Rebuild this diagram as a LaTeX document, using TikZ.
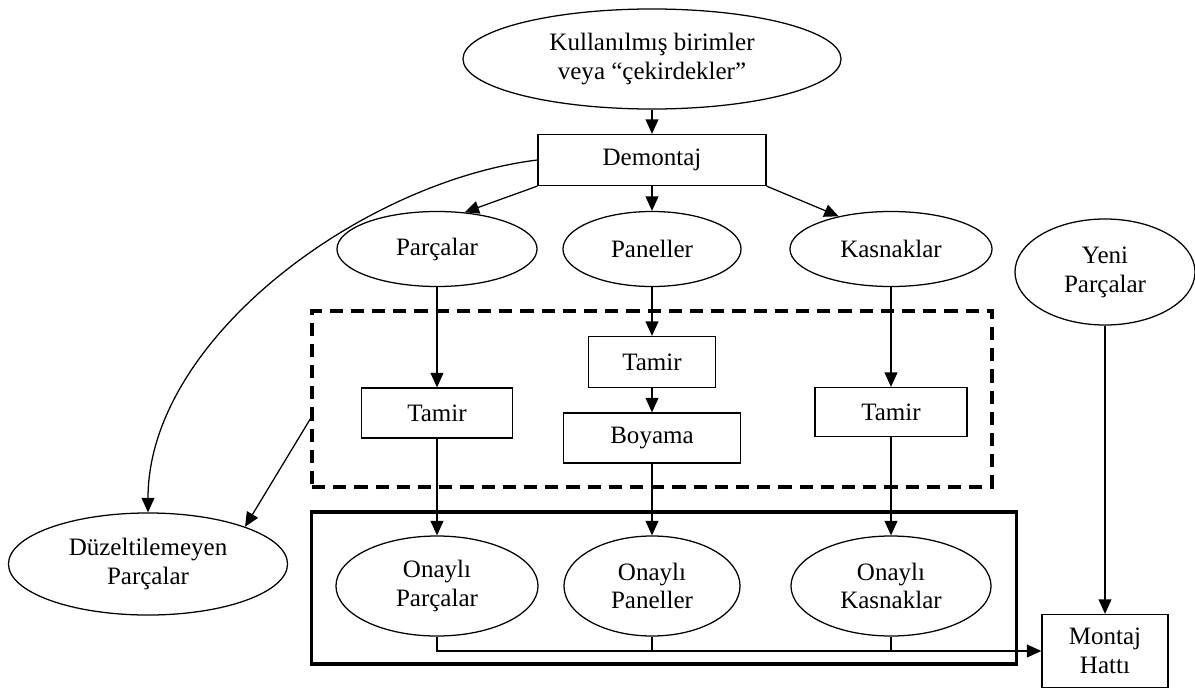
\documentclass[tikz,border=0pt]{standalone}
\usepackage{fontspec}
\setmainfont{Liberation Serif}
\usetikzlibrary{arrows.meta,shapes.geometric}

\begin{document}
\begin{tikzpicture}[
  x=0.025cm, y=-0.025cm,
  every node/.style={font=\fontsize{17.8}{20.5}\selectfont, align=center, inner sep=0pt},
  box/.style={draw, rectangle, line width=0.9pt},
  oval/.style={draw, ellipse, line width=0.9pt},
  arrow/.style={-{Triangle[length=0.36cm,width=0.32cm]}, line width=0.9pt},
  dashbox/.style={draw, dash pattern=on 0.33cm off 0.2cm, line width=2.4pt},
  onaybox/.style={draw, line width=2.6pt}
]
\useasboundingbox (0,0) rectangle (1195,690);

\node[oval, minimum width=9.45cm, minimum height=2.5cm] (kullanilmis) at (652,59) {Kullanılmış birimler\\veya “çekirdekler”};
\node[box, minimum width=5.7cm, minimum height=1.275cm] (demontaj) at (652,160) {Demontaj};
\node[oval, minimum width=5cm, minimum height=1.875cm] (parcalar) at (437,249) {Parçalar};
\node[oval, minimum width=4.45cm, minimum height=1.875cm] (paneller) at (652,249) {Paneller};
\node[oval, minimum width=5.05cm, minimum height=1.875cm] (kasnaklar) at (891,249) {Kasnaklar};
\node[oval, minimum width=4.5cm, minimum height=2.65cm] (yeni) at (1105,272) {Yeni\\Parçalar};

% onarim alani
\node[dashbox, minimum width=17cm, minimum height=4.4cm] (onarim) at (652,399) {};
\node[box, minimum width=3.775cm, minimum height=1.25cm] (tamir1) at (437,413) {Tamir};
\node[box, minimum width=3.175cm, minimum height=1.275cm] (tamir2) at (652,362) {Tamir};
\node[box, minimum width=4.425cm, minimum height=1.25cm] (boyama) at (652,438) {Boyama};
\node[box, minimum width=3.8cm, minimum height=1.225cm] (tamir3) at (891,412) {Tamir};

% onayli parcalar
\node[onaybox, minimum width=17.625cm, minimum height=3.8cm] (onay) at (664,588) {};
\node[oval, minimum width=5.05cm, minimum height=2.5cm] (onparca) at (437,586) {Onaylı\\Parçalar};
\node[oval, minimum width=4.4cm, minimum height=2.5cm] (onpanel) at (652,586) {Onaylı\\Paneller};
\node[oval, minimum width=5cm, minimum height=2.5cm] (onkasnak) at (891,586) {Onaylı\\Kasnaklar};

\node[oval, minimum width=6.975cm, minimum height=2.55cm] (duzelt) at (148,564) {Düzeltilemeyen\\Parçalar};
\node[box, minimum width=3.15cm, minimum height=1.825cm] (montaj) at (1105,651) {Montaj\\Hattı};

\coordinate (kopuk) at ([yshift=-0.5cm]onarim.west);

\draw[arrow] (kullanilmis) -- (demontaj);
\draw[arrow] (demontaj) -- (paneller);
\draw[arrow] (demontaj.south west) -- (parcalar.53);
\draw[arrow] (demontaj.south east) -- (kasnaklar.148);
\draw[arrow] (demontaj.west) to[out=187, in=90, looseness=0.85] (duzelt.north);
\draw[arrow] (kopuk) -- (duzelt.21);

\draw[arrow] (parcalar) -- (tamir1);
\draw[arrow] (tamir1) -- (onparca);
\draw[arrow] (paneller) -- (tamir2);
\draw[arrow] (tamir2) -- (boyama);
\draw[arrow] (boyama) -- (onpanel);
\draw[arrow] (kasnaklar) -- (tamir3);
\draw[arrow] (tamir3) -- (onkasnak);

\draw[arrow] (yeni) -- (montaj);
\draw[arrow] (onparca.south) |- (montaj.west);
\draw[line width=0.9pt] (onpanel.south) -- (onpanel.south |- montaj.west);
\draw[line width=0.9pt] (onkasnak.south) -- (onkasnak.south |- montaj.west);
\end{tikzpicture}
\end{document}
